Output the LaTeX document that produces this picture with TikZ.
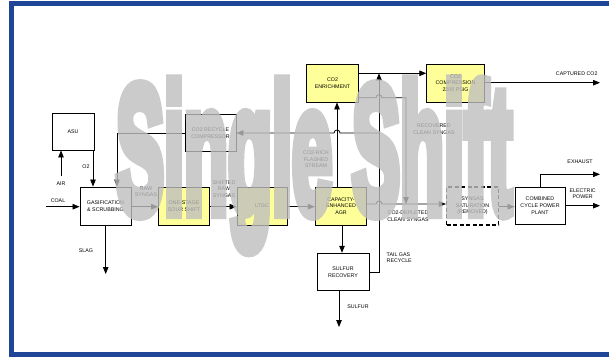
\documentclass[tikz,border=0pt]{standalone}
\usepackage{fontspec}
\setmainfont{Liberation Sans}
\newfontfamily\wmfont[FakeBold=8]{Liberation Sans}
\usetikzlibrary{arrows.meta}
\definecolor{frameblue}{RGB}{31,69,150}
\definecolor{boxyellow}{RGB}{255,255,153}
\definecolor{wmgray}{RGB}{190,190,190}
\tikzset{
  box/.style={draw, line width=0.9pt, inner sep=0pt, align=center,
    font=\fontsize{5.3}{6.6}\selectfont},
  ybox/.style={box, fill=boxyellow},
  lbl/.style={inner sep=0pt, align=center, font=\fontsize{5.3}{6.6}\selectfont},
  arr/.style={-{Triangle[length=7pt,width=5.5pt]}, line width=0.8pt},
}
\begin{document}
\begin{tikzpicture}[x=1pt,y=-1pt]
\useasboundingbox (0,0) rectangle (609,356);
\fill[white] (0,0) rectangle (609,356);
\draw[frameblue, line width=5pt] (612,3.5) -- (11,3.5) -- (11,354.5) -- (612,354.5);

% nodes
\node[box, minimum width=42pt, minimum height=37pt] (asu) at (73,131.5) {ASU};
\node[box, minimum width=51pt, minimum height=38pt] (gas) at (105.5,206) {GASIFICATION\\\& SCRUBBING};
\node[ybox, minimum width=51pt, minimum height=38pt] (sour) at (184,206) {ONE-STAGE\\SOUR SHIFT};
\node[ybox, minimum width=50pt, minimum height=38pt] (ltgc) at (262,206) {LTGC};
\node[ybox, minimum width=51.5pt, minimum height=38pt] (agr) at (341,206) {CAPACITY-\\ENHANCED\\AGR};
\node[box, dashed, line width=1.2pt, dash pattern=on 4pt off 2.5pt, minimum width=52pt, minimum height=38pt] (sat) at (472.5,206) {SYNGAS\\SATURATION\\(REMOVED)};
\node[box, minimum width=50pt, minimum height=37pt] (ccpp) at (540,205.7) {COMBINED\\CYCLE POWER\\PLANT};
\node[box, minimum width=52pt, minimum height=37.5pt] (sr) at (343,272) {SULFUR\\RECOVERY};
\node[ybox, minimum width=51.5pt, minimum height=38pt] (enr) at (332.5,83) {CO2\\ENRICHMENT};
\node[ybox, minimum width=57.5pt, minimum height=38pt] (comp) at (455.5,83) {CO2\\COMPRESSION\\2200 PSIG};
\node[box, minimum width=51pt, minimum height=37.5pt] (rc) at (210.5,133) {CO2 RECYCLE\\COMPRESSOR};

% free ends
\coordinate (airS) at (61,176);
\coordinate (coalS) at (46,206.7);
\coordinate (slagE) at (105.7,274);
\coordinate (sulE) at (339,327);
\coordinate (exhE) at (600,174.3);
\coordinate (powE) at (600,205.7);
\coordinate (capE) at (600,82.7);
\coordinate (tgx) at (379,272);
\coordinate (recx) at (406,97.7);

% connectors
\draw[arr] (airS) -- (airS |- asu.south);
\draw[arr] (asu.south -| 93,0) -- (gas.north -| 93,0);
\draw[arr] (coalS) -- (coalS -| gas.west);
\draw[arr] (gas.east |- 0,206.7) -- (sour.west |- 0,206.7);
\draw[arr] (sour.east |- 0,206.7) -- (ltgc.west |- 0,206.7);
\draw[arr] (ltgc.east |- 0,206.7) -- (agr.west |- 0,206.7);
\draw[arr] (agr.east |- 0,204) -- (376,204) arc[start angle=180,end angle=0,radius=3pt] -- (sat.west |- 0,204);
\draw[arr] (sat.east |- 0,206.7) -- (ccpp.west |- 0,206.7);
\draw[arr] (ccpp.north -| 540.7,0) -- (540.7,174.3) -- (exhE);
\draw[arr] (ccpp.east |- powE) -- (powE);
\draw[arr] (gas.south -| slagE) -- (slagE);
\draw[arr] (agr.south -| 342,0) -- (sr.north -| 342,0);
\draw[arr] (sr.south -| sulE) -- (sulE);
\draw[arr] (sr.east |- tgx) -- (tgx) -- (379,73.3);
\draw[arr] (enr.east |- 0,73.3) -- (comp.west |- 0,73.3);
\draw[arr] (comp.east |- capE) -- (capE);
\draw[arr] (enr.east |- recx) -- (376,97.7) arc[start angle=180,end angle=0,radius=3pt] -- (recx) -- (406,204);
\draw[arr] (agr.north -| 337,0) -- (enr.south -| 337,0);
\draw[arr] (379,133) -- (340,133) arc[start angle=0,end angle=180,radius=3pt] -- (rc.east);
\draw[arr] (rc.west) -- (117,133) -- (gas.north -| 117,0);

% labels
\node[lbl] at (86,167) {O2};
\node[lbl] at (61,183.5) {AIR};
\node[lbl] at (58,201) {COAL};
\node[lbl] at (86,251) {SLAG};
\node[lbl] at (146,191.5) {RAW\\SYNGAS};
\node[lbl] at (224,189) {SHIFTED\\RAW\\SYNGAS};
\node[lbl] at (316,159.5) {CO2-RICH\\FLASHED\\STREAM};
\node[lbl] at (408,216) {CO2-DEPLETED\\CLEAN SYNGAS};
\node[lbl] at (434,129) {RECOVERED\\CLEAN SYNGAS};
\node[lbl, align=left, anchor=west] at (386.5,257.5) {TAIL GAS\\RECYCLE};
\node[lbl] at (358,307) {SULFUR};
\node[lbl] at (576.7,73.3) {CAPTURED CO2};
\node[lbl] at (580,161.7) {EXHAUST};
\node[lbl] at (582.7,193.5) {ELECTRIC\\POWER};

% watermark
\begin{scope}[transparency group, opacity=0.8]
\node[anchor=base, inner sep=0pt, xscale=0.4, text=wmgray,
  font=\fontsize{180}{180}\wmfont\bfseries] (wm) at (314,212) {Single Shift};
\end{scope}
\end{tikzpicture}
\end{document}
